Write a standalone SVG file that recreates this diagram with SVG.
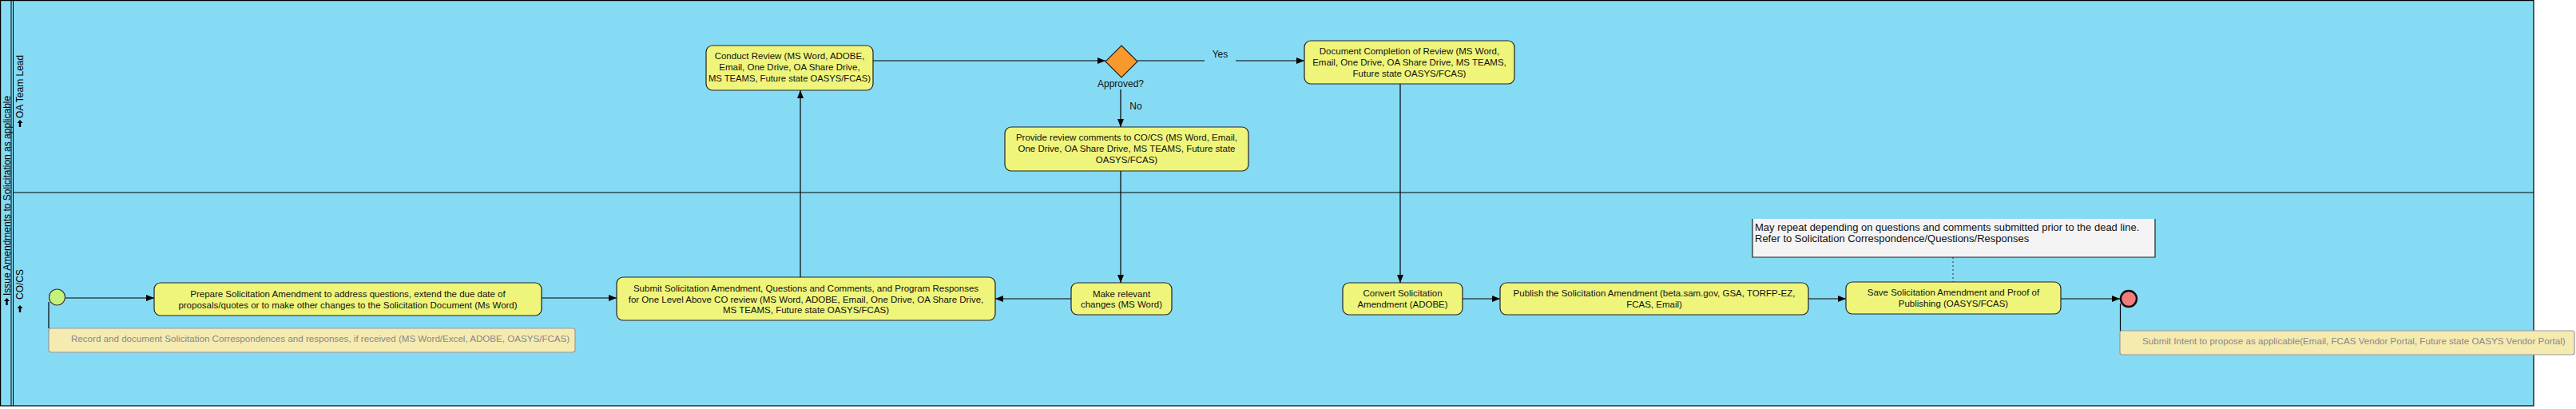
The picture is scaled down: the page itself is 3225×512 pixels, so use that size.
<svg xmlns="http://www.w3.org/2000/svg" width="3225" height="512" viewBox="0 0 3225 512">
<style>
text{font-family:"Liberation Sans",Arial,sans-serif;}
.t{font-size:11.5px;fill:#111;text-anchor:middle;}
.task{fill:#eff57b;stroke:#222;stroke-width:1.2;}
.note{fill:#f5ebb1;stroke:#999;stroke-width:1.2;}
.nt{font-size:11.6px;fill:#888;}
.lbl{font-size:12px;fill:#111;}
.lane{font-size:12px;fill:#000;}
.conn{fill:none;stroke:#000;stroke-width:1.2;}
</style>
<defs>
<marker id="ah" viewBox="0 0 10 8" refX="10" refY="4" markerWidth="10" markerHeight="8" markerUnits="userSpaceOnUse" orient="auto">
<path d="M0,0 L10,4 L0,8 Z" fill="#000"/>
</marker>
<path id="upicon" d="M0,-5 L3.5,-1 L1.2,-1 L1.2,4 L-1.2,4 L-1.2,-1 L-3.5,-1 Z" fill="#000"/>
</defs>
<rect x="0" y="0" width="3225" height="512" fill="#fff"/>
<g id="pool">
<rect x="0.6" y="0.6" width="3171.4" height="507.4" fill="#86dbf4" stroke="#000" stroke-width="1.2"/>
<line x1="14" y1="0" x2="14" y2="508" stroke="#000" stroke-width="1"/>
<line x1="16.5" y1="0" x2="16.5" y2="508" stroke="#000" stroke-width="1"/>
<line x1="16.5" y1="241" x2="3172" y2="241" stroke="#000" stroke-width="1.2"/>
<text class="lane" transform="translate(12.6,370) rotate(-90)">Issue Amendments to Solicitation as applicable</text>
<use href="#upicon" x="8.5" y="378"/>
</g>
<g id="lane-oa">
<text class="lane" transform="translate(29,148) rotate(-90)">OA Team Lead</text>
<use href="#upicon" x="25" y="155"/>
</g>
<g id="lane-cocs">
<text class="lane" transform="translate(29,375) rotate(-90)">CO/CS</text>
<use href="#upicon" x="25" y="387"/>
</g>
<g id="connectors">
<path class="conn" d="M82,373 H193" marker-end="url(#ah)"/>
<path class="conn" d="M678,373 H772" marker-end="url(#ah)"/>
<path class="conn" d="M1002,347 V113" marker-end="url(#ah)"/>
<path class="conn" d="M1093,76 H1384" marker-end="url(#ah)"/>
<path class="conn" d="M1424,76 H1508 M1547,76 H1633" marker-end="url(#ah)"/>
<path class="conn" d="M1403,112 V159" marker-end="url(#ah)"/>
<path class="conn" d="M1403,214 V354" marker-end="url(#ah)"/>
<path class="conn" d="M1341,374 H1246" marker-end="url(#ah)"/>
<path class="conn" d="M1753,105 V354" marker-end="url(#ah)"/>
<path class="conn" d="M1831,374 H1878" marker-end="url(#ah)"/>
<path class="conn" d="M2264,374 H2311" marker-end="url(#ah)"/>
<path class="conn" d="M2580,374 H2654" marker-end="url(#ah)"/>
<path class="conn" d="M61,378 V411"/>
<path class="conn" d="M2654.5,380 V414"/>
<path d="M2445,322 V353" fill="none" stroke="#333" stroke-width="1" stroke-dasharray="2,3"/>
<text class="lbl" x="1527.5" y="72" text-anchor="middle">Yes</text>
<text class="lbl" x="1422" y="137" text-anchor="middle">No</text>
</g>
<g id="start">
<circle cx="71.5" cy="372" r="10" fill="#c6f27b" stroke="#333" stroke-width="1.2"/>
</g>
<g id="note-record">
<rect class="note" x="61" y="411" width="659" height="30" rx="3"/>
<text class="nt" x="89" y="428">Record and document Solicitation Correspondences and responses, if received (MS Word/Excel, ADOBE, OASYS/FCAS)</text>
</g>
<g id="task-prepare">
<rect class="task" x="193" y="354" width="485" height="41" rx="8"/>
<text class="t" x="435.5" y="371.5">Prepare Solicitation Amendment to address questions, extend the due date of</text>
<text class="t" x="435.5" y="385.8">proposals/quotes or to make other changes to the Solicitation Document (Ms Word)</text>
</g>
<g id="task-submit">
<rect class="task" x="772" y="347" width="474" height="54" rx="8"/>
<text class="t" x="1009" y="365">Submit Solicitation Amendment, Questions and Comments, and Program Responses</text>
<text class="t" x="1009" y="378.5">for One Level Above CO review (MS Word, ADOBE, Email, One Drive, OA Share Drive,</text>
<text class="t" x="1009" y="392">MS TEAMS, Future state OASYS/FCAS)</text>
</g>
<g id="task-conduct">
<rect class="task" x="884" y="57" width="209" height="56" rx="8"/>
<text class="t" x="988.5" y="74">Conduct Review (MS Word, ADOBE,</text>
<text class="t" x="988.5" y="88">Email, One Drive, OA Share Drive,</text>
<text class="t" x="988.5" y="102" textLength="203" lengthAdjust="spacingAndGlyphs">MS TEAMS, Future state OASYS/FCAS)</text>
</g>
<g id="gateway-approved">
<path d="M1404,57 L1424,77 L1404,97 L1384,77 Z" fill="#f8992d" stroke="#222" stroke-width="1.2"/>
<text class="lbl" x="1403" y="108.5" text-anchor="middle">Approved?</text>
</g>
<g id="task-provide">
<rect class="task" x="1258" y="159" width="305" height="55" rx="8"/>
<text class="t" x="1410.5" y="176">Provide review comments to CO/CS (MS Word, Email,</text>
<text class="t" x="1410.5" y="190">One Drive, OA Share Drive, MS TEAMS, Future state</text>
<text class="t" x="1410.5" y="204">OASYS/FCAS)</text>
</g>
<g id="task-make">
<rect class="task" x="1341" y="354" width="126" height="40" rx="8"/>
<text class="t" x="1404" y="372">Make relevant</text>
<text class="t" x="1404" y="385">changes (MS Word)</text>
</g>
<g id="task-document">
<rect class="task" x="1633" y="51" width="263" height="54" rx="8"/>
<text class="t" x="1764.5" y="68">Document Completion of Review (MS Word,</text>
<text class="t" x="1764.5" y="82">Email, One Drive, OA Share Drive, MS TEAMS,</text>
<text class="t" x="1764.5" y="96">Future state OASYS/FCAS)</text>
</g>
<g id="task-convert">
<rect class="task" x="1681" y="354" width="150" height="40" rx="8"/>
<text class="t" x="1756" y="371">Convert Solicitation</text>
<text class="t" x="1756" y="385">Amendment (ADOBE)</text>
</g>
<g id="task-publish">
<rect class="task" x="1878" y="354" width="386" height="40" rx="8"/>
<text class="t" x="2071" y="371">Publish the Solicitation Amendment (beta.sam.gov, GSA, TORFP-EZ,</text>
<text class="t" x="2071" y="385">FCAS, Email)</text>
</g>
<g id="task-save">
<rect class="task" x="2311" y="353" width="269" height="40" rx="8"/>
<text class="t" x="2445.5" y="370">Save Solicitation Amendment and Proof of</text>
<text class="t" x="2445.5" y="384">Publishing (OASYS/FCAS)</text>
</g>
<g id="note-repeat">
<rect x="2194" y="274" width="504" height="48" fill="#f4f4f4"/>
<path d="M2194,274 V322 H2698 V274" fill="none" stroke="#222" stroke-width="1.2"/>
<text x="2197" y="289" font-size="13" fill="#111">May repeat depending on questions and comments submitted prior to the dead line.</text>
<text x="2197" y="303" font-size="13" fill="#111">Refer to Solicitation Correspondence/Questions/Responses</text>
</g>
<g id="end">
<circle cx="2665" cy="374" r="10" fill="#f27c7c" stroke="#111" stroke-width="2.5"/>
</g>
<g id="note-intent">
<rect class="note" x="2654" y="414" width="569" height="30" rx="3"/>
<text class="nt" x="2682" y="431" font-size="11.9">Submit Intent to propose as applicable(Email, FCAS Vendor Portal, Future state OASYS Vendor Portal)</text>
</g>
</svg>
